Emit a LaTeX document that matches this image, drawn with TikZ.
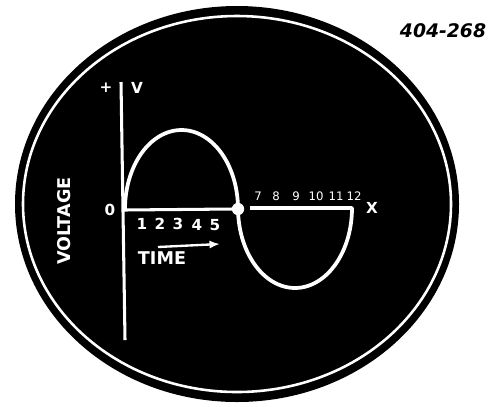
\documentclass[tikz,border=0pt]{standalone}
\usepackage{fontspec}
\setsansfont{DejaVu Sans}
\usetikzlibrary{arrows.meta}

\begin{document}
\begin{tikzpicture}[
  x=0.03cm, y=-0.03cm,
  trace/.style={white, line width=3.2pt, line cap=round},
  axis/.style={white, line width=2.6pt},
  dot/.style={circle, fill=white, minimum size=10.5pt, inner sep=0pt},
  lbl/.style={text=white, inner sep=0pt, font=\sffamily\bfseries\fontsize{15}{15}\selectfont},
  tick/.style={text=white, inner sep=0pt, font=\sffamily\bfseries\fontsize{13}{13}\selectfont},
  smalltick/.style={text=white, inner sep=0pt, font=\sffamily\fontsize{10}{10}\selectfont}
]
\useasboundingbox (0,0) rectangle (489,406);
\fill[white] (0,0) rectangle (489,406);

% screen
\fill[black] (237,204) ellipse [x radius=222, y radius=198];
\draw[white, line width=2.2pt] (237,204) ellipse [x radius=214, y radius=188];

% axes
\draw[axis] (121,82) -- (125,340);
\draw[axis] (124,210) -- (233,209);
\draw[axis] (250,208) -- (352,208);

% one cycle
\draw[trace] plot[domain=180:0, samples=60] ({181.5+56.5*cos(\x)}, {209-79*sin(\x)});
\draw[trace] plot[domain=180:360, samples=60] ({295+57*cos(\x)}, {208-80*sin(\x)});
\node[dot] (zero) at (238,209) {};

% axis labels
\node[tick] (plus) at (106,88) {+};
\node[tick] (vaxis) at (137,88) {V};
\node[tick] (origin) at (110,210) {0};
\node[tick] (xaxis) at (372,208) {X};
\node[lbl, rotate=90] (voltage) at (64,221) {VOLTAGE};
\node[lbl] (time) at (162,258) {TIME};

% time marks
\node[tick] (t1) at (142,224) {1};
\node[tick] (t2) at (160,224) {2};
\node[tick] (t3) at (178,224) {3};
\node[tick] (t4) at (197,225) {4};
\node[tick] (t5) at (215,225) {5};
\node[smalltick] (t7) at (258,196) {7};
\node[smalltick] (t8) at (276,196) {8};
\node[smalltick] (t9) at (296,196) {9};
\node[smalltick] (t10) at (316,196) {10};
\node[smalltick] (t11) at (336,196) {11};
\node[smalltick] (t12) at (354,196) {12};

% time arrow
\coordinate (tail) at (158,247);
\coordinate (head) at (220,244);
\draw[white, line width=2pt, -{Latex[length=9pt, width=7pt]}] (tail) -- (head);

\node[inner sep=0pt, font=\sffamily\bfseries\itshape\fontsize{16}{16}\selectfont] (figno) at (443,31) {404-268};

\end{tikzpicture}
\end{document}
